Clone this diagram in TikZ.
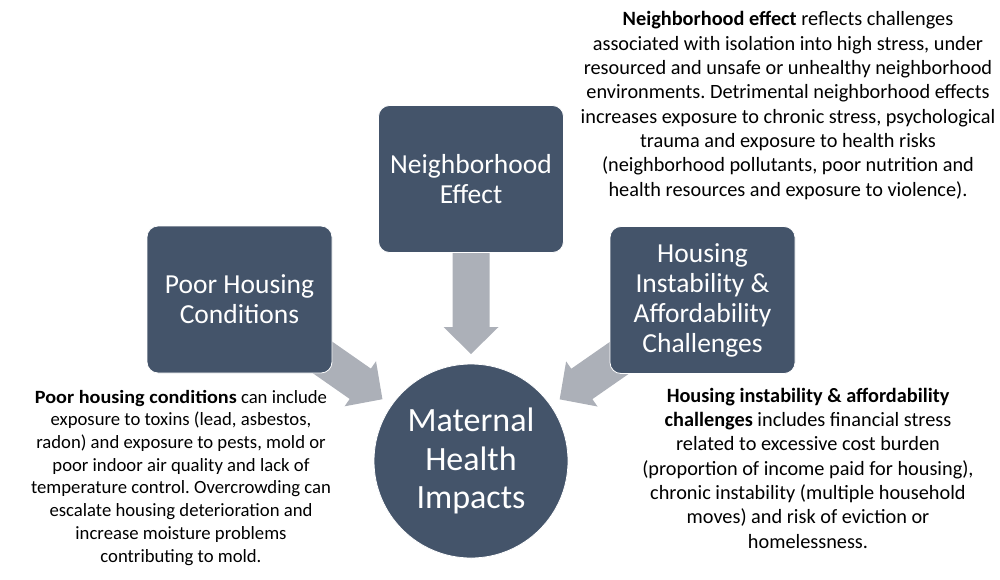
\documentclass[tikz,border=0pt]{standalone}
\usepackage{fontspec}
\setmainfont{Carlito}
\newfontfamily\widefam{Carlito}[BoldFeatures={FakeStretch=1.08}]
\usetikzlibrary{calc}
\definecolor{boxblue}{HTML}{44546A}
\definecolor{arrowgray}{RGB}{172,176,184}
\pgfdeclarelayer{bg}
\pgfsetlayers{bg,main}
\newcommand{\blockarrow}[2]{%
  \coordinate (hb) at ($(#2)!27pt!(#1)$);
  \fill[arrowgray] ($(#1)!18.5pt!90:(#2)$) -- ($(hb)!18.5pt!90:(#2)$) -- ($(hb)!27.5pt!90:(#2)$) -- (#2)
    -- ($(hb)!27.5pt!-90:(#2)$) -- ($(hb)!18.5pt!-90:(#2)$) -- ($(#1)!18.5pt!-90:(#2)$) -- cycle;}
\tikzset{
  topic/.style={rectangle, rounded corners=11pt, fill=boxblue, draw=white, line width=0.8pt,
    minimum width=185pt, minimum height=147pt, inner sep=0pt, text=white, align=center,
    font=\fontsize{27.5}{30}\selectfont},
  hub/.style={circle, fill=boxblue, draw=white, line width=0.8pt, minimum size=194pt, inner sep=0pt,
    text=white, align=center, font=\fontsize{34}{38.5}\selectfont},
  desc/.style={align=center, inner sep=0pt, text=black, font=\widefam\fontsize{18.7}{22.7}\selectfont\frenchspacing},
  descbig/.style={desc, font=\fontsize{20.3}{24.3}\selectfont\frenchspacing}
}
\begin{document}
\begin{tikzpicture}[x=1pt, y=-1pt]
\useasboundingbox (0,0) rectangle (1000,579);
\node[topic] (ph) at (239.5,299.5) {Poor Housing\\Conditions};
\node[topic] (ne) at (471,179) {Neighborhood\\Effect};
\node[topic] (hi) at (702.5,300) {Housing\\Instability \&\\Affordability\\Challenges};
\node[hub] (mh) at (471,461) {Maternal\\Health\\Impacts};
\coordinate (phtip) at ($(mh.center)!108pt!(ph.center)$);
\coordinate (netip) at ($(mh.center)!107pt!(ne.center)$);
\coordinate (hitip) at ($(mh.center)!108pt!(hi.center)$);
\begin{pgfonlayer}{bg}
\blockarrow{ph.center}{phtip}
\blockarrow{ne.center}{netip}
\blockarrow{hi.center}{hitip}
\end{pgfonlayer}
\node[desc, anchor=base] (phtext) at (181,562) {\textbf{Poor housing conditions} can include\\
exposure to toxins (lead, asbestos,\\
radon) and exposure to pests, mold or\\
poor indoor air quality and lack of\\
temperature control. Overcrowding can\\
escalate housing deterioration and\\
increase moisture problems\\
contributing to mold.};
\node[descbig, anchor=base] (netext) at (788,196) {\textbf{Neighborhood effect} reflects challenges\\
associated with isolation into high stress, under\\
resourced and unsafe or unhealthy neighborhood\\
environments. Detrimental neighborhood effects\\
increases exposure to chronic stress, psychological\\
trauma and exposure to health risks\\
(neighborhood pollutants, poor nutrition and\\
health resources and exposure to violence).};
\node[descbig, anchor=base] (hitext) at (808,548) {\textbf{Housing instability \& affordability}\\
\textbf{challenges} includes financial stress\\
related to excessive cost burden\\
(proportion of income paid for housing),\\
chronic instability (multiple household\\
moves) and risk of eviction or\\
homelessness.};
\end{tikzpicture}
\end{document}
